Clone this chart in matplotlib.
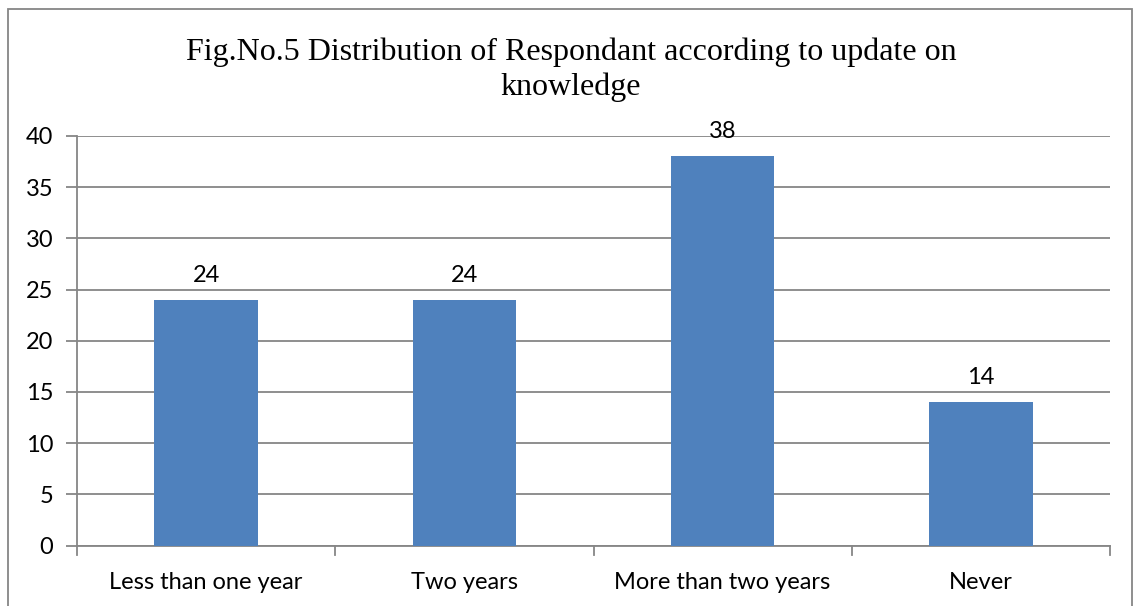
import matplotlib.pyplot as plt
from matplotlib.patches import Rectangle

categories = ["Less than one year", "Two years", "More than two years", "Never"]
respondents = [24, 24, 38, 14]
y_ticks = [0, 5, 10, 15, 20, 25, 30, 35, 40]

W, H = 1135, 606
fig = plt.figure(figsize=(W / 100, H / 100), dpi=100)

# plot area in pixel coordinates
left, right, top, bottom = 77, 1110, 136, 545.5
ax = fig.add_axes([left / W, 1 - bottom / H, (right - left) / W, (bottom - top) / H])

grid_col = "#868686"
label_font = "Lato"
label_size = 17

x = range(len(categories))
bars = ax.bar(x, respondents, width=0.4, color="#4F81BD", zorder=3)
ax.set_xlim(-0.5, len(categories) - 0.5)
ax.set_ylim(0, 40)

ax.set_yticks(y_ticks)
ax.set_yticklabels([str(t) for t in y_ticks], fontsize=label_size, family=label_font)
ax.yaxis.grid(True, color=grid_col, linewidth=1.3, zorder=0)
ax.tick_params(axis="y", length=8, width=1.3, color=grid_col, pad=9)

# category labels centred on bars, tick marks on category boundaries
ax.set_xticks(list(x))
ax.set_xticklabels(categories, fontsize=label_size, family=label_font)
ax.tick_params(axis="x", length=0, pad=19)
for b in [i - 0.5 for i in range(len(categories) + 1)]:
    ax.plot([b, b], [0, -0.022], transform=ax.get_xaxis_transform(),
            color=grid_col, linewidth=1.3, clip_on=False)

for s in ["top", "right"]:
    ax.spines[s].set_visible(False)
for s in ["left", "bottom"]:
    ax.spines[s].set_color(grid_col)
    ax.spines[s].set_linewidth(1.3)

for bar, v in zip(bars, respondents):
    ax.annotate(str(v), (bar.get_x() + bar.get_width() / 2, v),
                xytext=(0, 13), textcoords="offset points",
                ha="center", va="baseline", fontsize=label_size, family=label_font)

fig.text(571 / W, 1 - 60 / H,
         "Fig.No.5 Distribution of Respondant according to update on",
         ha="center", va="baseline", fontsize=23, family="Liberation Serif")
fig.text(571 / W, 1 - 95 / H, "knowledge",
         ha="center", va="baseline", fontsize=23, family="Liberation Serif")

# outer chart border
fig.patches.append(Rectangle((8 / W, -0.01), (1132 - 8) / W, 1 - 9 / H + 0.01,
                             transform=fig.transFigure, fill=False,
                             edgecolor=grid_col, linewidth=1.3))

fig.savefig("out.png", dpi=100)
